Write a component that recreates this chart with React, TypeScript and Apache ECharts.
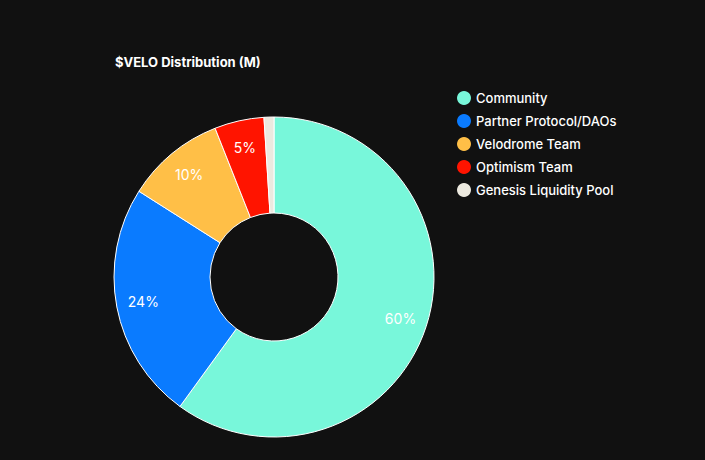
import React, { useEffect, useRef } from "react";
import * as echarts from "echarts";

const categories = ["Community", "Partner Protocol/DAOs", "Velodrome Team", "Optimism Team", "Genesis Liquidity Pool"];
const values = [240, 96, 40, 20, 4];
const colors = ["#78f7da", "#0a7bff", "#ffbf47", "#ff1400", "#ece9df"];
const showLabel = [true, true, true, true, false];

export default function App() {
  const ref = useRef<HTMLDivElement>(null);
  useEffect(() => {
    const chart = echarts.init(ref.current!, null, { renderer: "svg" });
    const total = values.reduce((a, b) => a + b, 0);
    const font = "Inter, 'Noto Sans', sans-serif";
    chart.setOption({
      animation: false,
      backgroundColor: "#111111",
      title: {
        text: "$VELO Distribution (M)",
        left: 110,
        top: 50,
        textStyle: { color: "#ffffff", fontSize: 13, fontWeight: "bold", fontFamily: font },
      },
      legend: {
        orient: "vertical",
        left: 452,
        top: 86,
        icon: "circle",
        itemWidth: 14,
        itemHeight: 14,
        itemGap: 9,
        data: categories,
        itemStyle: { borderWidth: 0 },
        textStyle: { color: "#ffffff", fontSize: 13, fontFamily: font, fontWeight: 500 },
      },
      series: [
        {
          type: "pie",
          center: [274, 277],
          radius: [64, 160],
          startAngle: 90,
          clockwise: true,
          label: { show: false },
          labelLine: { show: false },
          itemStyle: { borderColor: "#ffffff", borderWidth: 1 },
          data: categories.map((c, i) => ({ name: c, value: values[i], itemStyle: { color: colors[i] } })),
        },
        {
          type: "pie",
          center: [274, 277],
          radius: [100, 160],
          startAngle: 90,
          clockwise: true,
          silent: true,
          legendHoverLink: false,
          labelLine: { show: false },
          itemStyle: { color: "transparent", borderWidth: 0 },
          label: {
            position: "inside",
            color: "#ffffff",
            fontSize: 14,
            fontFamily: font,
            formatter: (p: any) => Math.round((p.value / total) * 100) + "%",
          },
          data: categories.map((c, i) => ({
            name: c + " ",
            value: values[i],
            label: { show: showLabel[i] },
          })),
        },
      ],
    });
    return () => chart.dispose();
  }, []);
  return <div ref={ref} style={{ position: "absolute", left: 0, top: 0, width: 705, height: 460 }} />;
}
